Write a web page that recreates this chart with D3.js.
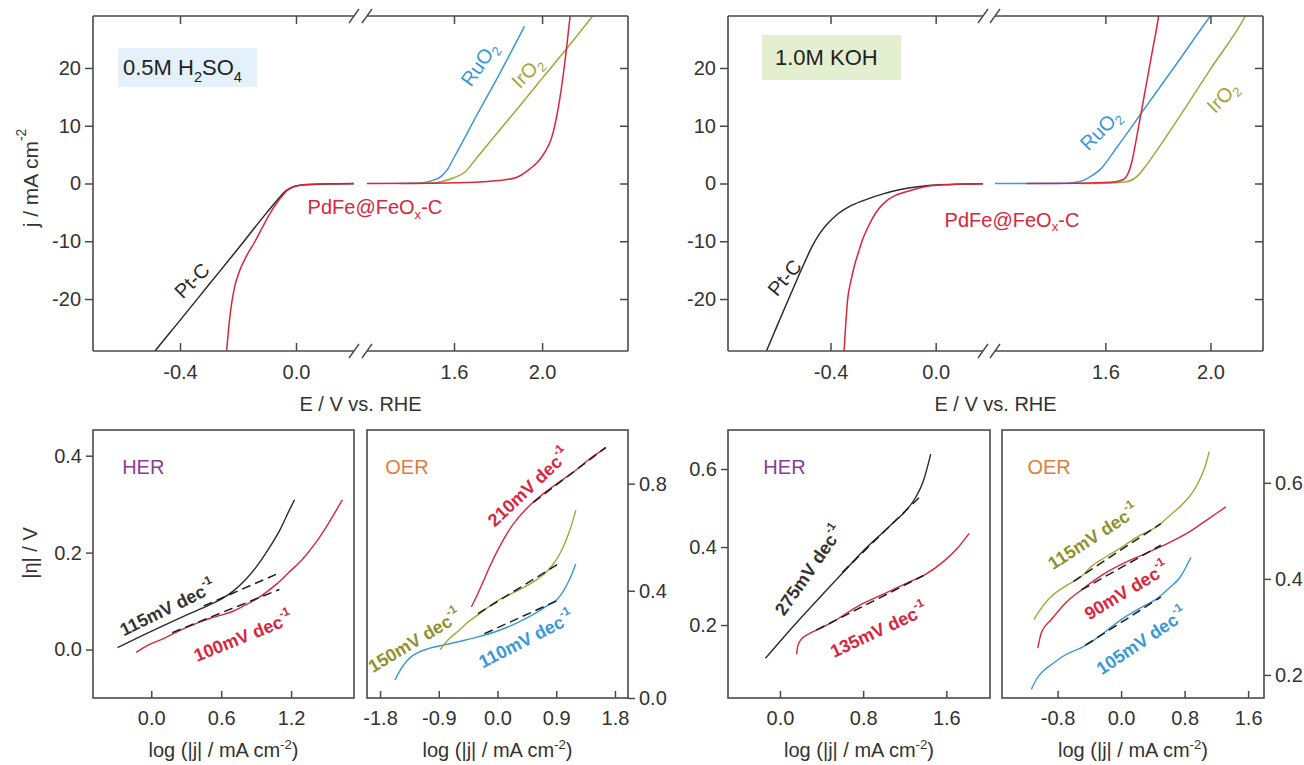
<!DOCTYPE html>
<html><head><meta charset="utf-8">
<script src="https://cdn.jsdelivr.net/npm/d3@7"></script>
<style>
html,body{margin:0;padding:0;background:#fff;}
svg{display:block;}
</style></head><body>
<svg id="c" width="1304" height="765"></svg>
<script>
// ---------------- DATA ----------------
// Top panels: polarization curves, [E (V vs RHE), j (mA cm^-2)]
const J_TICKS = [-20, -10, 0, 10, 20];
const E_TICKS_LEFT = [-0.4, 0.0];
const E_TICKS_RIGHT = [1.6, 2.0];

// 0.5 M H2SO4
const acidPtC = [[-0.5,-29.9],[-0.486,-29],[-0.4,-23.7],[-0.3,-17.5],[-0.2,-11.3],[-0.1,-5.0],[-0.06,-2.6],[-0.04,-1.5],[-0.02,-0.8],[0.0,-0.45],[0.04,-0.2],[0.1,-0.08],[0.2,-0.02]];
const acidPdFe = [[-0.241,-30],[-0.233,-25.5],[-0.224,-21.5],[-0.212,-18],[-0.195,-15.2],[-0.17,-12.5],[-0.141,-10],[-0.115,-7.5],[-0.09,-5.2],[-0.065,-3.3],[-0.045,-2],[-0.03,-1.2],[-0.01,-0.6],[0.02,-0.25],[0.08,-0.1],[0.2,-0.03],
                  [1.205,0],[1.5,0.05],[1.7,0.2],[1.8,0.5],[1.88,1.0],[1.94,2.4],[2.0,4.7],[2.05,8.8],[2.08,14.6],[2.1,20],[2.13,30]];
const acidRuO2 = [[1.35,0],[1.45,0.1],[1.5,0.5],[1.54,1.2],[1.57,2.4],[1.6,4.5],[1.65,8],[1.7,11.6],[1.8,18.5],[1.92,27.2]];
const acidIrO2 = [[1.4,0],[1.5,0.1],[1.55,0.4],[1.6,1.0],[1.65,2.0],[1.7,4.3],[1.8,8.9],[1.9,13.5],[2.0,18.2],[2.1,22.8],[2.25,30]];

// 1.0 M KOH
const alkPtC = [[-0.652,-29.8],[-0.644,-29],[-0.6,-24.3],[-0.55,-19.0],[-0.5,-13.8],[-0.47,-10.9],[-0.44,-8.6],[-0.41,-6.9],[-0.37,-5.2],[-0.32,-3.8],[-0.26,-2.7],[-0.2,-1.8],[-0.13,-1.0],[-0.06,-0.5],[0.0,-0.25],[0.18,-0.05]];
const alkPdFe = [[-0.35,-30],[-0.343,-25],[-0.335,-20.1],[-0.323,-17],[-0.309,-14.2],[-0.293,-11.8],[-0.278,-9.7],[-0.26,-7.8],[-0.24,-6.0],[-0.215,-4.3],[-0.187,-3.0],[-0.155,-2.1],[-0.126,-1.6],[-0.08,-1.0],[-0.035,-0.5],[0.05,-0.2],[0.18,-0.05],
                 [1.3,0],[1.5,0.05],[1.62,0.2],[1.669,0.7],[1.70,3.6],[1.72,8.2],[1.74,13.2],[1.76,18.2],[1.78,23.2],[1.80,28.2],[1.806,30]];
const alkRuO2 = [[1.18,0],[1.45,0.05],[1.5,0.3],[1.543,1.2],[1.58,2.4],[1.646,6.4],[1.745,12.7],[1.874,20.9],[2.0,29],[2.01,29.6]];
const alkIrO2 = [[1.5,0],[1.6,0.05],[1.68,0.3],[1.72,1.2],[1.75,2.8],[1.8,6.0],[1.9,12.8],[2.0,19.8],[2.133,29],[2.14,29.6]];

// Bottom panels: Tafel plots, [log(|j| / mA cm^-2), |eta| (V)]
// acid HER
const acidHerPtC = [[-0.29,0.004],[-0.1,0.026],[0.1,0.049],[0.3,0.071],[0.5,0.092],[0.6,0.104],[0.7,0.12],[0.8,0.142],[0.9,0.17],[1.0,0.205],[1.1,0.245],[1.2,0.295],[1.23,0.309]];
const acidHerPdFe = [[-0.13,-0.006],[-0.05,0.006],[0.0,0.012],[0.1,0.022],[0.2,0.034],[0.3,0.045],[0.41,0.056],[0.5,0.064],[0.6,0.071],[0.69,0.078],[0.8,0.091],[0.9,0.104],[0.98,0.117],[1.08,0.136],[1.18,0.159],[1.3,0.187],[1.41,0.22],[1.52,0.26],[1.64,0.309]];
const acidHerPtCFit = [[0.45,0.09],[1.08,0.156]];
const acidHerPdFeFit = [[0.18,0.035],[1.1,0.124]];
// acid OER
const acidOerPdFe = [[-0.4,0.34],[-0.3,0.39],[-0.2,0.445],[-0.12,0.49],[0.0,0.55],[0.1,0.595],[0.2,0.635],[0.29,0.664],[0.4,0.695],[0.5,0.72],[0.64,0.75],[0.8,0.78],[1.0,0.815],[1.2,0.85],[1.4,0.89],[1.66,0.933]];
const acidOerIrO2 = [[-0.88,0.18],[-0.8,0.205],[-0.7,0.23],[-0.6,0.25],[-0.47,0.28],[-0.3,0.31],[-0.02,0.36],[0.3,0.4],[0.59,0.44],[0.75,0.47],[0.9,0.515],[1.0,0.56],[1.1,0.62],[1.2,0.70]];
const acidOerRuO2 = [[-1.57,0.067],[-1.5,0.1],[-1.4,0.135],[-1.3,0.158],[-1.2,0.172],[-1.05,0.185],[-0.88,0.195],[-0.6,0.21],[-0.3,0.228],[0.0,0.25],[0.3,0.28],[0.64,0.325],[0.8,0.35],[0.9,0.365],[1.0,0.395],[1.1,0.44],[1.2,0.50]];
const acidOerPdFeFit = [[0.55,0.73],[1.66,0.935]];
const acidOerIrO2Fit = [[-0.3,0.315],[0.93,0.50]];
const acidOerRuO2Fit = [[-0.2,0.24],[0.93,0.365]];
// alkaline HER
const alkHerPtC = [[-0.14,0.115],[0.0,0.158],[0.2,0.218],[0.4,0.276],[0.6,0.333],[0.8,0.39],[1.0,0.44],[1.1,0.465],[1.2,0.49],[1.3,0.525],[1.38,0.57],[1.45,0.638]];
const alkHerPdFe = [[0.16,0.125],[0.17,0.145],[0.2,0.162],[0.26,0.175],[0.375,0.19],[0.5,0.207],[0.76,0.25],[1.0,0.28],[1.24,0.31],[1.4,0.33],[1.56,0.36],[1.7,0.395],[1.82,0.435]];
const alkHerPtCFit = [[0.6,0.335],[1.37,0.535]];
const alkHerPdFeFit = [[0.35,0.187],[1.38,0.327]];
// alkaline OER
const alkOerIrO2 = [[-1.1,0.315],[-1.0,0.34],[-0.9,0.36],[-0.7,0.385],[-0.5,0.405],[-0.38,0.425],[-0.2,0.445],[0.0,0.465],[0.2,0.487],[0.46,0.51],[0.6,0.53],[0.8,0.56],[0.9,0.58],[1.0,0.61],[1.06,0.635],[1.11,0.665]];
const alkOerPdFe = [[-1.05,0.256],[-1.0,0.29],[-0.88,0.315],[-0.7,0.35],[-0.5,0.377],[-0.2,0.412],[0.13,0.44],[0.5,0.467],[0.88,0.5],[1.1,0.525],[1.32,0.55]];
const alkOerRuO2 = [[-1.13,0.17],[-1.07,0.19],[-1.0,0.205],[-0.85,0.225],[-0.72,0.24],[-0.5,0.257],[-0.38,0.268],[-0.2,0.29],[0.04,0.32],[0.25,0.34],[0.46,0.36],[0.6,0.38],[0.75,0.405],[0.88,0.445]];
const alkOerIrO2Fit = [[-0.6,0.395],[0.5,0.515]];
const alkOerPdFeFit = [[-0.5,0.377],[0.5,0.47]];
const alkOerRuO2Fit = [[-0.45,0.262],[0.5,0.362]];

const TICKS_BL1 = [0.0, 0.6, 1.2], ETA_BL1 = [0.0, 0.2, 0.4];
const TICKS_BL2 = [-1.8, -0.9, 0.0, 0.9, 1.8], ETA_BL2 = [0.0, 0.4, 0.8];
const TICKS_BR1 = [0.0, 0.8, 1.6], ETA_BR1 = [0.2, 0.4, 0.6];
const TICKS_BR2 = [-0.8, 0.0, 0.8, 1.6], ETA_BR2 = [0.2, 0.4, 0.6];

// ---------------- STYLE ----------------
const FONT = '"Liberation Sans", Arial, Helvetica, sans-serif';
const C = {black:'#2b2b2b', red:'#d8263c', blue:'#3b98d6', olive:'#a4a53a', purple:'#8a3d98', orange:'#e27b40', axis:'#4a4a4a', text:'#333'};
const svg = d3.select('#c').attr('font-family', FONT);

function rich(t, parts, size){
  let shift = 0;
  parts.forEach(p => {
    const ts = t.append('tspan').text(p.t);
    const target = p.sub ? size*0.32 : (p.sup ? -size*0.42 : 0);
    if (target - shift !== 0) ts.attr('dy', target - shift);
    shift = target;
    if (p.sub || p.sup) ts.attr('font-size', size*0.66);
  });
  return t;
}
function styleAxis(g){
  g.attr('font-family', FONT).attr('font-size', 20).attr('color', C.axis);
  g.select('.domain').remove();
  g.selectAll('.tick line').attr('stroke-width', 1.5);
  g.selectAll('.tick text').attr('fill', C.text);
}
const fmt1 = d => d.toFixed(1);
const lineGen = (xs, ys) => d3.line().x(d => xs(d[0])).y(d => ys(d[1])).curve(d3.curveMonotoneX);

// ---------------- TOP PANELS ----------------
function topPanel(o){
  const g = svg.append('g');
  const xL = d3.scaleLinear().domain(o.domL).range(o.rngL);
  const xR = d3.scaleLinear().domain(o.domR).range(o.rngR);
  const y = d3.scaleLinear().domain([-29, 29]).range([o.y1, o.y0]);
  const x0 = o.rngL[0], x1 = o.rngR[1];

  g.append('rect').attr('x', o.leg.x).attr('y', o.leg.y).attr('width', o.leg.w).attr('height', o.leg.h).attr('fill', o.leg.fill);
  rich(g.append('text').attr('x', o.leg.x + o.leg.pad).attr('y', o.leg.y + o.leg.h/2).attr('dy', '0.36em')
       .attr('font-size', 22).attr('fill', '#222'), o.leg.parts, 22);

  const cid = o.id + 'clip';
  svg.append('clipPath').attr('id', cid).append('rect').attr('x', x0).attr('y', o.y0).attr('width', x1 - x0).attr('height', o.y1 - o.y0);
  const cg = g.append('g').attr('clip-path', `url(#${cid})`);
  o.curves.forEach(c => {
    const left = c.data.filter(d => d[0] <= o.domL[1] + 1e-9);
    const right = c.data.filter(d => d[0] >= o.domR[0] - 1e-9);
    [[left, xL], [right, xR]].forEach(([pts, xs]) => {
      if (pts.length < 2) return;
      cg.append('path').datum(pts).attr('d', lineGen(xs, y)).attr('fill', 'none')
        .attr('stroke', c.color).attr('stroke-width', 1.5);
    });
  });

  g.append('g').attr('transform', `translate(${x0},0)`)
    .call(d3.axisLeft(y).tickValues(J_TICKS).tickSize(8).tickPadding(4).tickFormat(d => String(d))).call(styleAxis);
  g.append('g').attr('transform', `translate(${x1},0)`)
    .call(d3.axisRight(y).tickValues(J_TICKS).tickSize(-8).tickFormat('')).call(styleAxis);
  [[xL, E_TICKS_LEFT], [xR, E_TICKS_RIGHT]].forEach(([xs, tv]) => {
    g.append('g').attr('transform', `translate(0,${o.y1})`)
      .call(d3.axisBottom(xs).tickValues(tv).tickSize(-8).tickPadding(14).tickFormat(fmt1)).call(styleAxis);
    g.append('g').attr('transform', `translate(0,${o.y0})`)
      .call(d3.axisTop(xs).tickValues(tv).tickSize(-8).tickFormat('')).call(styleAxis);
  });

  const fr = g.append('g').attr('stroke', C.axis).attr('stroke-width', 1.6).attr('fill', 'none');
  [o.y0, o.y1].forEach(yy => {
    fr.append('line').attr('x1', x0).attr('x2', o.rngL[1]).attr('y1', yy).attr('y2', yy);
    fr.append('line').attr('x1', o.rngR[0]).attr('x2', x1).attr('y1', yy).attr('y2', yy);
    [o.rngL[1], o.rngR[0]].forEach(bx => {
      fr.append('line').attr('x1', bx - 5).attr('y1', yy + 7).attr('x2', bx + 5).attr('y2', yy - 7).attr('stroke-width', 1.4);
    });
  });
  fr.append('line').attr('x1', x0).attr('x2', x0).attr('y1', o.y0).attr('y2', o.y1);
  fr.append('line').attr('x1', x1).attr('x2', x1).attr('y1', o.y0).attr('y2', o.y1);

  g.append('text').attr('x', (x0 + x1)/2).attr('y', 411).attr('text-anchor', 'middle')
    .attr('font-size', 20).attr('fill', C.text).text('E / V vs. RHE');

  o.labels.forEach(l => {
    const xs = l.seg === 'L' ? xL : xR;
    const t = g.append('text').attr('transform', `translate(${xs(l.at[0])},${y(l.at[1])}) rotate(${l.rot || 0})`)
      .attr('text-anchor', l.anchor || 'middle').attr('dominant-baseline', 'central')
      .attr('font-size', l.size || 20).attr('fill', l.color);
    rich(t, l.parts, l.size || 20);
  });
}

topPanel({
  id: 'tl', y0: 16, y1: 351,
  domL: [-0.7, 0.2], rngL: [93, 354], domR: [1.205, 2.39], rngR: [367, 628],
  leg: {x: 118, y: 48, w: 139, h: 39, pad: 5, fill: '#e4f0fa', parts: [{t:'0.5M H'},{t:'2',sub:true},{t:'SO'},{t:'4',sub:true}]},
  curves: [
    {data: acidPtC, color: C.black},
    {data: acidRuO2, color: C.blue},
    {data: acidIrO2, color: C.olive},
    {data: acidPdFe, color: C.red}
  ],
  labels: [
    {seg:'L', at:[-0.359,-16.8], rot:-45, color:C.black, parts:[{t:'Pt-C'}]},
    {seg:'L', at:[0.04,-4.1], anchor:'start', color:C.red, parts:[{t:'PdFe@FeO'},{t:'x',sub:true},{t:'-C'}]},
    {seg:'R', at:[1.714,20.7], rot:-55, color:C.blue, parts:[{t:'RuO'},{t:'2',sub:true}]},
    {seg:'R', at:[1.932,19.3], rot:-45, color:C.olive, parts:[{t:'IrO'},{t:'2',sub:true}]}
  ]
});

topPanel({
  id: 'tr', y0: 16, y1: 351,
  domL: [-0.79, 0.18], rngL: [728, 983], domR: [1.18, 2.2], rngR: [995, 1263],
  leg: {x: 762, y: 35, w: 139, h: 45, pad: 13, fill: '#e3efcf', parts: [{t:'1.0M KOH'}]},
  curves: [
    {data: alkPtC, color: C.black},
    {data: alkRuO2, color: C.blue},
    {data: alkIrO2, color: C.olive},
    {data: alkPdFe, color: C.red}
  ],
  labels: [
    {seg:'L', at:[-0.575,-16.3], rot:-50, color:C.black, parts:[{t:'Pt-C'}]},
    {seg:'L', at:[0.034,-6.3], anchor:'start', color:C.red, parts:[{t:'PdFe@FeO'},{t:'x',sub:true},{t:'-C'}]},
    {seg:'R', at:[1.581,9.3], rot:-45, color:C.blue, parts:[{t:'RuO'},{t:'2',sub:true}]},
    {seg:'R', at:[2.046,15], rot:-45, color:C.olive, parts:[{t:'IrO'},{t:'2',sub:true}]}
  ]
});

rich(svg.append('text').attr('transform', 'translate(30,178) rotate(-90)').attr('text-anchor', 'middle')
  .attr('dominant-baseline', 'central').attr('font-size', 21).attr('fill', C.text),
  [{t:'j /  mA cm'},{t:'-2',sup:true}], 21);

// ---------------- BOTTOM PANELS ----------------
function bottomPanel(o){
  const g = svg.append('g');
  const x = d3.scaleLinear().domain(o.xdom).range([o.x0, o.x1]);
  const y = d3.scaleLinear().domain(o.ydom).range([698, 430]);
  const cid = o.id + 'clip';
  svg.append('clipPath').attr('id', cid).append('rect').attr('x', o.x0).attr('y', 430).attr('width', o.x1 - o.x0).attr('height', 268);
  const cg = g.append('g').attr('clip-path', `url(#${cid})`);
  o.curves.forEach(c => {
    cg.append('path').datum(c.data).attr('d', lineGen(x, y)).attr('fill', 'none').attr('stroke', c.color).attr('stroke-width', 1.4);
  });
  o.fits.forEach(f => {
    cg.append('path').datum(f).attr('d', d3.line().x(d => x(d[0])).y(d => y(d[1]))).attr('fill', 'none')
      .attr('stroke', '#1e1e1e').attr('stroke-width', 1.5).attr('stroke-dasharray', '9,5');
  });
  g.append('g').attr('transform', 'translate(0,698)')
    .call(d3.axisBottom(x).tickValues(o.xticks).tickSize(-7).tickPadding(13).tickFormat(fmt1)).call(styleAxis);
  if (o.yside === 'left') {
    g.append('g').attr('transform', `translate(${o.x0},0)`)
      .call(d3.axisLeft(y).tickValues(o.yticks).tickSize(7).tickPadding(4).tickFormat(fmt1)).call(styleAxis);
  } else {
    g.append('g').attr('transform', `translate(${o.x1},0)`)
      .call(d3.axisRight(y).tickValues(o.yticks).tickSize(7).tickPadding(4).tickFormat(fmt1)).call(styleAxis);
  }
  g.append('rect').attr('x', o.x0).attr('y', 430).attr('width', o.x1 - o.x0).attr('height', 268)
    .attr('fill', 'none').attr('stroke', C.axis).attr('stroke-width', 1.6);
  rich(g.append('text').attr('x', (o.x0 + o.x1)/2).attr('y', 757).attr('text-anchor', 'middle')
    .attr('font-size', 20).attr('fill', C.text), [{t:'log (|j| / mA cm'},{t:'-2',sup:true},{t:')'}], 20);
  g.append('text').attr('x', x(o.tag.at[0])).attr('y', y(o.tag.at[1])).attr('dominant-baseline', 'central')
    .attr('font-size', 20).attr('fill', o.tag.color).text(o.tag.text);
  o.labels.forEach(l => {
    const t = g.append('text').attr('transform', `translate(${x(l.at[0])},${y(l.at[1])}) rotate(${l.rot})`)
      .attr('text-anchor', 'middle').attr('dominant-baseline', 'central')
      .attr('font-size', 18).attr('font-weight', 'bold').attr('fill', l.color);
    rich(t, [{t: l.text + ' dec'}, {t:'-1', sup:true}], 18);
  });
}

bottomPanel({
  id:'bl1', x0:93, x1:354, xdom:[-0.5, 1.74], ydom:[-0.1, 0.453], xticks:TICKS_BL1, yticks:ETA_BL1, yside:'left',
  curves:[{data:acidHerPtC, color:C.black},{data:acidHerPdFe, color:C.red}],
  fits:[acidHerPtCFit, acidHerPdFeFit],
  tag:{text:'HER', color:C.purple, at:[-0.25, 0.377]},
  labels:[
    {text:'115mV', color:'#333', at:[0.14, 0.085], rot:-26},
    {text:'100mV', color:C.red, at:[0.79, 0.026], rot:-22}
  ]
});
bottomPanel({
  id:'bl2', x0:367, x1:628, xdom:[-2.0, 2.0], ydom:[0.0, 1.0], xticks:TICKS_BL2, yticks:ETA_BL2, yside:'right',
  curves:[{data:acidOerRuO2, color:C.blue},{data:acidOerIrO2, color:C.olive},{data:acidOerPdFe, color:C.red}],
  fits:[acidOerPdFeFit, acidOerIrO2Fit, acidOerRuO2Fit],
  tag:{text:'OER', color:C.orange, at:[-1.72, 0.862]},
  labels:[
    {text:'210mV', color:C.red, at:[0.48, 0.785], rot:-43},
    {text:'150mV', color:'#8f9130', at:[-1.27, 0.212], rot:-31},
    {text:'110mV', color:C.blue, at:[0.44, 0.218], rot:-27}
  ]
});
bottomPanel({
  id:'br1', x0:728, x1:990, xdom:[-0.5, 2.02], ydom:[0.013, 0.7], xticks:TICKS_BR1, yticks:ETA_BR1, yside:'left',
  curves:[{data:alkHerPtC, color:C.black},{data:alkHerPdFe, color:C.red}],
  fits:[alkHerPtCFit, alkHerPdFeFit],
  tag:{text:'HER', color:C.purple, at:[-0.16, 0.605]},
  labels:[
    {text:'275mV', color:'#333', at:[0.28, 0.34], rot:-55},
    {text:'135mV', color:C.red, at:[0.95, 0.186], rot:-25}
  ]
});
bottomPanel({
  id:'br2', x0:1002, x1:1264, xdom:[-1.5, 1.8], ydom:[0.152, 0.71], xticks:TICKS_BR2, yticks:ETA_BR2, yside:'right',
  curves:[{data:alkOerRuO2, color:C.blue},{data:alkOerIrO2, color:C.olive},{data:alkOerPdFe, color:C.red}],
  fits:[alkOerIrO2Fit, alkOerPdFeFit, alkOerRuO2Fit],
  tag:{text:'OER', color:C.orange, at:[-1.18, 0.633]},
  labels:[
    {text:'115mV', color:'#8f9130', at:[-0.35, 0.487], rot:-33},
    {text:'90mV', color:C.red, at:[0.07, 0.375], rot:-31},
    {text:'105mV', color:C.blue, at:[0.26, 0.27], rot:-34}
  ]
});

svg.append('text').attr('transform', 'translate(30,553) rotate(-90)').attr('text-anchor', 'middle')
  .attr('dominant-baseline', 'central').attr('font-size', 20).attr('fill', C.text).text('|η| / V');
</script></body></html>
